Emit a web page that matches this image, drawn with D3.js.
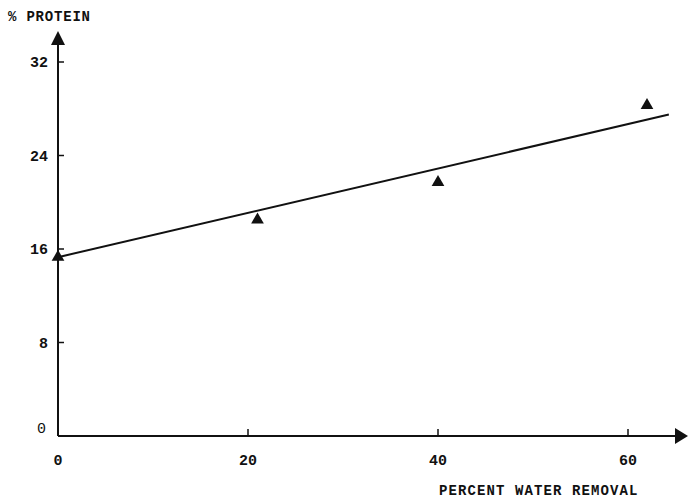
<!DOCTYPE html>
<html>
<head>
<meta charset="utf-8">
<script src="https://cdn.jsdelivr.net/npm/d3@7"></script>
<style>
body { margin: 0; background: #fff; }
text { font-family: "Liberation Mono", "DejaVu Sans Mono", monospace; font-weight: bold; fill: #111; }
</style>
</head>
<body>
<div id="canvas"></div>
<script>
// Data
const waterRemoval = [0, 21, 40, 62];
const protein = [15.3, 18.5, 21.7, 28.3];
const fitX = [0, 64.3];
const fitY = [15.3, 27.5];
const xTicks = [0, 20, 40, 60];
const yTicks = [0, 8, 16, 24, 32];

const W = 688, H = 500;
const svg = d3.select("#canvas")
.append("svg")
.attr("width", W)
.attr("height", H);

const x = d3.scaleLinear().domain([0, 60]).range([58, 628]);
const y = d3.scaleLinear().domain([0, 32]).range([436, 62]);

// axes lines with arrows
svg.append("line")
.attr("x1", x(0)).attr("y1", y(0))
.attr("x2", x(0)).attr("y2", 42)
.attr("stroke", "#111").attr("stroke-width", 2);
svg.append("path")
.attr("d", `M${x(0) - 7},${45} L${x(0)},${31} L${x(0) + 7},${45} Z`)
.attr("fill", "#111");

svg.append("line")
.attr("x1", x(0)).attr("y1", y(0))
.attr("x2", 678).attr("y2", y(0))
.attr("stroke", "#111").attr("stroke-width", 2);
svg.append("path")
.attr("d", `M${675},${y(0) - 8} L${688},${y(0)} L${675},${y(0) + 8} Z`)
.attr("fill", "#111");

// y ticks (inward)
svg.selectAll(".yt")
.data(yTicks.filter(d => d > 0))
.enter().append("line")
.attr("x1", x(0)).attr("x2", x(0) + 6)
.attr("y1", d => y(d)).attr("y2", d => y(d))
.attr("stroke", "#111").attr("stroke-width", 1.5);

svg.selectAll(".yl")
.data(yTicks)
.enter().append("text")
.attr("x", d => d == 0 ? 46 : 48)
.attr("y", d => y(d) + 5 - (d == 0 ? 8 : 0))
.attr("text-anchor", "end")
.style("font-size", "15px")
.style("font-weight", d => d == 0 ? "normal" : "bold")
.text(d => d);

// x ticks (inward)
svg.selectAll(".xt")
.data(xTicks.filter(d => d > 0))
.enter().append("line")
.attr("x1", d => x(d)).attr("x2", d => x(d))
.attr("y1", y(0)).attr("y2", y(0) - 7)
.attr("stroke", "#111").attr("stroke-width", 1.5);

svg.selectAll(".xl")
.data(xTicks)
.enter().append("text")
.attr("x", d => x(d))
.attr("y", 465)
.attr("text-anchor", "middle")
.style("font-size", "15px")
.text(d => d);

// titles
svg.append("text")
.attr("x", 8).attr("y", 21)
.style("font-size", "14px")
.style("letter-spacing", "0.8px")
.text("% PROTEIN");

svg.append("text")
.attr("x", 439).attr("y", 495)
.style("font-size", "14px")
.style("letter-spacing", "1.1px")
.text("PERCENT WATER REMOVAL");

// fitted line
svg.append("line")
.attr("x1", x(fitX[0])).attr("y1", y(fitY[0]))
.attr("x2", x(fitX[1])).attr("y2", y(fitY[1]))
.attr("stroke", "#111").attr("stroke-width", 2);

// points
const tri = d3.symbol().type(d3.symbolTriangle).size(70);
svg.selectAll(".pt")
.data(waterRemoval.map((d, i) => [d, protein[i]]))
.enter().append("path")
.attr("d", tri)
.attr("transform", d => `translate(${x(d[0])},${y(d[1])})`)
.attr("fill", "#111");
</script>
</body>
</html>
